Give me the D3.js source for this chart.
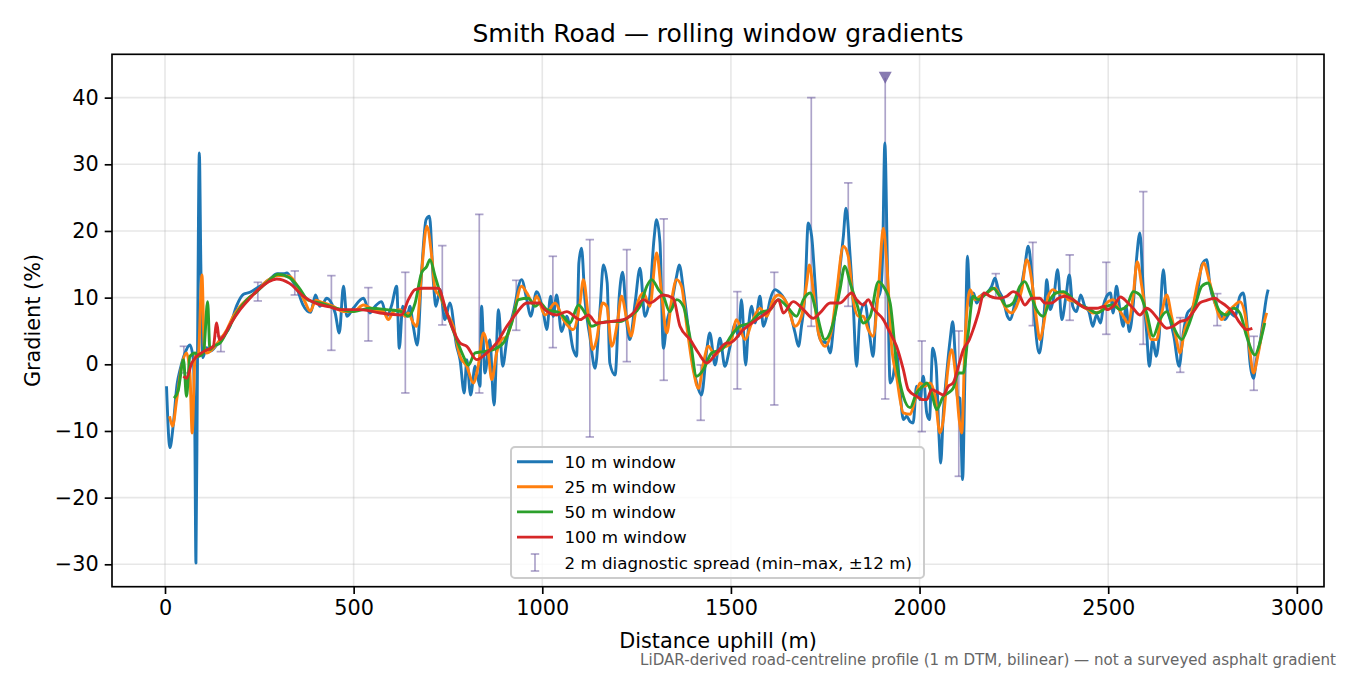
<!DOCTYPE html>
<html>
<head>
<meta charset="utf-8">
<script src="https://cdn.jsdelivr.net/npm/d3@7"></script>
<style>
  body { margin: 0; background: #fff; }
  svg { font-family: "DejaVu Sans", sans-serif; }
</style>
</head>
<body>
<div id="chart"></div>
<script>
// rolling window gradient profiles: [distance m, gradient %]
const w10 = [
  [4,-3.3],[13,-12.5],[22,-9],[32,-3],[40,-0.8],[53,1.7],[66,2.9],[75,0.7],[79,-10],[82,-29.8],
  [86,0],[91,31.7],[95,15],[100,1],[110,2.5],[120,2],[137,2.9],[155,4.2],[172,5.7],[190,8.8],
  [208,10.5],[225,10.8],[243,11.4],[260,12],[280,12.9],[297,13.6],[315,13.6],[323,13.7],[338,12.5],[350,11.3],
  [365,9],[386,7.8],[399,10.4],[410,8.7],[420,9.2],[428,9.9],[451,7.7],[462,4.7],[473,11.7],[482,7.2],
  [499,8.4],[526,9.9],[543,7.7],[557,8.7],[574,9.4],[588,7.2],[601,8.9],[614,11.7],[621,2.4],[630,8.7],
  [642,7.2],[649,8.7],[658,5.7],[669,2.9],[680,13.7],[692,21.7],[701,22.2],[711,12.7],[718,8.7],[729,11.2],
  [742,6.7],[755,9.2],[773,2.7],[782,0.7],[793,-4.3],[800,0.7],[810,-4.6],[822,-0.3],[835,-3.3],[839,8.7],
  [848,-1.3],[861,3.7],[872,-6.1],[884,8.2],[895,-0.3],[906,3.7],[923,7.7],[945,12.7],[959,9.7],[969,7.2],
  [985,10.9],[1003,7.7],[1012,5.2],[1022,10.2],[1029,7.2],[1038,10.4],[1051,4.9],[1065,7.2],[1082,2.2],[1091,1.2],
  [1097,15.2],[1104,17.4],[1113,9.7],[1126,4.2],[1140,-0.6],[1153,8.2],[1162,14.9],[1172,12.2],[1179,0.2],[1193,-1.6],
  [1204,10.2],[1213,13.8],[1224,6.2],[1232,3.7],[1246,9.2],[1259,14.4],[1272,7.2],[1285,10.2],[1296,18.7],[1303,21.7],
  [1312,18.2],[1321,2.4],[1330,6.2],[1343,9.2],[1356,13.2],[1363,14.9],[1374,11.2],[1383,7.2],[1396,1.2],[1409,-2.8],
  [1422,-4.6],[1436,2.2],[1444,4.7],[1458,-0.1],[1471,3.9],[1484,-0.3],[1497,2.5],[1511,6],[1520,4.2],[1528,9.7],
  [1539,-0.1],[1546,5.2],[1555,8.7],[1564,6.2],[1577,10.2],[1586,5.7],[1595,7.2],[1604,9.7],[1617,11.2],[1630,10.7],
  [1643,9.7],[1657,7.7],[1670,4.7],[1679,2.7],[1687,5.7],[1696,10.2],[1705,21.2],[1714,19.2],[1723,12.2],[1732,4.7],
  [1741,3.4],[1754,3.2],[1763,1.7],[1773,6.2],[1785,12.2],[1798,19.2],[1805,23.4],[1816,16.2],[1824,9.2],[1833,-0.3],
  [1842,7.2],[1855,9.2],[1867,4.7],[1877,1.2],[1886,9.2],[1897,11.2],[1902,16.2],[1908,33.2],[1915,14.2],[1922,-2.8],
  [1930,-1.8],[1939,1.7],[1948,-3.8],[1957,-8.3],[1966,-7.8],[1975,-8.6],[1983,-8.8],[1992,-3.3],[2001,-5.3],[2010,-1.8],
  [2019,-7.3],[2026,-8.3],[2035,2.4],[2044,-0.3],[2052,-11.3],[2056,-14.8],[2063,-7.3],[2072,-1.3],[2081,3.7],[2088,6.4],
  [2094,1.7],[2100,-4.8],[2107,-5.1],[2114,-17.3],[2120,-2.3],[2127,16.2],[2134,8.7],[2143,10.7],[2151,9.2],[2165,10.4],
  [2178,10.7],[2191,11.7],[2200,12.9],[2209,11.2],[2222,9.7],[2233,7.2],[2241,6.7],[2253,9.2],[2266,10.7],[2279,14.7],
  [2288,17.7],[2297,13.7],[2306,6.2],[2317,1.7],[2324,3.7],[2333,9.7],[2337,12.7],[2346,8.2],[2356,10.2],[2366,14.2],
  [2377,6.7],[2388,10.2],[2397,13.4],[2406,8.7],[2416,7.9],[2427,10.4],[2438,8.7],[2449,7.9],[2459,5.7],[2469,7.4],
  [2480,6.2],[2487,8.7],[2496,10.2],[2506,10.7],[2513,7.7],[2522,11.7],[2531,8.2],[2540,5.7],[2547,8.7],[2556,4.9],
  [2566,8.7],[2575,15.7],[2584,19.7],[2593,11.2],[2602,4.7],[2609,-0.3],[2618,3.7],[2627,1.2],[2635,4.2],[2646,14.2],
  [2655,8.7],[2664,6.7],[2674,4.2],[2688,-0.3],[2699,4.7],[2710,7.7],[2725,8.7],[2739,11.7],[2748,14.9],[2761,15.7],
  [2770,11.7],[2783,9.2],[2796,7.7],[2809,6.7],[2823,7.7],[2836,7.2],[2849,10.2],[2858,10.7],[2867,6.7],[2876,0.2],
  [2885,-2.1],[2893,0.7],[2902,3.2],[2911,6.7],[2920,10.2],[2924,11.2]
];

const w25 = [
  [12,-7.8],[20,-9.3],[31,-5.3],[44,-0.3],[57,1.7],[66,-1.3],[72,-10.3],[80,1.2],[88,1.2],[98,13.4],
  [104,2.7],[110,1.7],[128,2.4],[146,3.7],[164,5.2],[181,7.2],[199,8.7],[217,9.7],[243,10.9],[270,12.5],
  [300,13.3],[330,13.2],[350,11.8],[370,9.5],[385,8],[400,9.6],[411,9.4],[446,8.7],[473,7.9],[499,7.9],
  [526,8.9],[552,8.2],[579,7.9],[592,6.7],[605,7.9],[623,8.2],[636,7.2],[645,7.7],[658,6.2],[667,5.7],
  [680,13.7],[694,20.7],[707,16.2],[716,11.2],[729,10.2],[747,7.7],[764,5.7],[782,1.2],[800,-0.3],[817,-2.8],
  [830,-0.3],[844,4.7],[857,1.7],[866,-2.3],[879,1.7],[892,3.7],[906,4.2],[923,7.2],[945,11.7],[959,10.7],
  [976,9.2],[985,10.2],[1007,7.4],[1034,9.2],[1056,6.7],[1082,5.2],[1100,9.2],[1109,12.7],[1122,7.2],[1134,2.2],
  [1144,3.7],[1160,9.2],[1171,8.7],[1184,2.7],[1199,6.2],[1210,10.2],[1224,6.7],[1235,4.2],[1250,8.7],[1268,10.7],
  [1285,8.7],[1303,16.7],[1316,10.7],[1330,4.7],[1343,9.7],[1356,12.7],[1369,11.7],[1383,5.7],[1400,-0.8],[1414,-3.6],
  [1427,0.2],[1440,2.7],[1458,1.4],[1475,2.4],[1498,3],[1515,6.7],[1537,3.7],[1555,6.2],[1577,8.4],[1595,7.2],
  [1612,9.7],[1626,10.4],[1648,9.2],[1670,5.7],[1687,7.2],[1701,12.2],[1708,14.9],[1718,11.2],[1732,4.7],[1749,2.7],
  [1767,5.2],[1780,10.7],[1798,17.7],[1811,16.2],[1824,9.7],[1838,7.2],[1851,7.2],[1864,5.2],[1877,4.2],[1891,11.2],
  [1904,20.4],[1913,15.2],[1926,2.7],[1939,-1.8],[1957,-7.3],[1975,-7.5],[1988,-5.3],[2001,-2.8],[2014,-3.3],[2028,-2.8],
  [2041,-4.8],[2054,-10.3],[2063,-8.3],[2074,-1.3],[2085,2.2],[2094,-0.8],[2105,-8.3],[2112,-10.3],[2120,2.7],[2134,11.2],
  [2147,9.7],[2160,10.2],[2178,10.7],[2200,11.4],[2213,10.2],[2231,8.2],[2244,7.7],[2257,8.7],[2271,11.2],[2284,15.7],
  [2297,12.7],[2310,6.7],[2319,3.7],[2328,5.7],[2341,10.2],[2354,11.2],[2368,10.7],[2381,10.7],[2394,9.7],[2412,9.4],
  [2430,8.7],[2447,8.2],[2460,7.7],[2478,7.9],[2496,9.2],[2513,9.7],[2527,8.4],[2540,7.2],[2553,6.2],[2566,10.2],
  [2577,15.4],[2589,11.7],[2602,6.7],[2615,3.7],[2628,3.7],[2642,7.7],[2655,10.4],[2668,7.2],[2681,3.7],[2690,1.7],
  [2703,5.2],[2721,7.7],[2739,12.7],[2754,15.2],[2765,13.2],[2783,9.2],[2801,6.7],[2814,7.7],[2832,8.7],[2849,9.4],
  [2862,7.7],[2876,1.7],[2885,-1.3],[2898,1.7],[2911,5.7],[2920,7.7]
];

const w50 = [
  [24,-5.1],[35,-3.9],[49,0.7],[57,-4.8],[66,1.2],[80,1.7],[88,1.2],[102,1.7],[113,9.4],[119,2.2],
  [128,2.7],[146,3.2],[164,4.9],[190,7.7],[217,9.7],[243,10.9],[270,12.3],[300,13.5],[330,13],[355,11.5],
  [380,9.6],[411,9.2],[455,8.4],[499,7.9],[543,8.4],[588,8.2],[627,7.9],[645,7.2],[663,9.2],[680,13.7],
  [694,14.7],[702,15.7],[716,13.2],[729,10.7],[747,7.7],[773,3.7],[791,1.2],[804,-0.1],[822,1.7],[844,1.9],
  [870,2.2],[897,3.2],[919,6.2],[937,9.7],[963,9.9],[981,8.7],[994,9.2],[1012,8.2],[1047,7.7],[1073,6.2],
  [1096,8.9],[1113,7.7],[1131,5.7],[1153,6.2],[1179,6.4],[1206,6.4],[1232,7.2],[1259,8.7],[1277,11.7],[1290,12.7],
  [1308,11.2],[1321,10.2],[1338,7.9],[1356,9.7],[1374,8.7],[1391,4.2],[1409,-1.8],[1427,-0.8],[1449,1.7],[1475,2.2],
  [1506,4.7],[1524,5.7],[1551,6.2],[1577,7.7],[1604,8.2],[1626,9.7],[1648,8.7],[1674,7.2],[1692,9.7],[1710,10.7],
  [1727,7.7],[1749,3.7],[1771,6.2],[1789,11.2],[1802,14.7],[1816,12.2],[1833,9.2],[1851,6.2],[1869,7.2],[1891,12.4],
  [1904,11.7],[1922,9.2],[1939,0.2],[1957,-4.8],[1975,-6.5],[1992,-4.3],[2008,-3.3],[2019,-2.8],[2032,-4.3],[2045,-6.8],
  [2063,-4.8],[2076,-4.3],[2089,-3.6],[2103,-1.3],[2116,-1.3],[2129,4.7],[2142,10.2],[2156,9.7],[2173,10.4],[2195,11.4],
  [2213,10.2],[2231,8.7],[2248,9.2],[2266,11.7],[2279,12.4],[2293,10.7],[2310,8.2],[2328,7.2],[2346,9.7],[2363,10.7],
  [2381,10.9],[2399,10.2],[2416,9.2],[2434,8.7],[2452,8.2],[2469,7.7],[2487,8.2],[2496,8.7],[2513,8.9],[2531,8.2],
  [2549,8.7],[2566,10.9],[2584,10.4],[2602,7.7],[2619,4.2],[2637,6.7],[2655,7.9],[2672,5.7],[2695,3.7],[2712,5.7],
  [2730,8.7],[2748,11.7],[2765,12.2],[2779,10.2],[2796,7.9],[2814,7.4],[2832,8.4],[2849,7.7],[2867,4.2],[2889,1.4],
  [2902,3.2],[2915,6.2]
];

const w100 = [
  [49,-1.8],[57,-2.1],[71,0.2],[84,1.2],[102,1.9],[128,2.7],[137,6.2],[144,3.7],[155,4.2],[172,5.9],
  [199,8.2],[225,9.9],[247,11.2],[296,12.8],[331,12.1],[367,10.2],[402,9.1],[437,8.6],[464,8.2],[517,8.2],
  [570,7.7],[627,7.4],[645,9.7],[663,11.2],[685,11.4],[724,11.4],[747,7.7],[782,3.2],[800,2.7],[826,0.7],
  [853,1.7],[879,3.2],[906,5.7],[932,7.7],[959,9.2],[994,9.2],[1003,8.4],[1038,7.4],[1065,7.9],[1100,6.7],
  [1122,7.4],[1144,6.2],[1179,6.4],[1215,6.7],[1241,7.7],[1268,9.7],[1285,9.2],[1321,10.4],[1347,9.9],[1365,5.7],
  [1392,3.7],[1414,1.7],[1436,0.2],[1462,1.7],[1489,3.2],[1497,3.2],[1533,5.2],[1568,6.7],[1604,8.2],[1626,9.7],
  [1639,7.7],[1665,9.4],[1692,8.2],[1718,6.9],[1736,7.7],[1763,9.2],[1789,9.2],[1820,10.7],[1833,9.7],[1851,8.9],
  [1864,9.7],[1877,8.4],[1904,6.7],[1922,4.7],[1939,2.7],[1957,-0.8],[1970,-3.8],[1992,-4.8],[2010,-5.3],[2019,-5.3],
  [2032,-3.8],[2045,-4.1],[2063,-4.6],[2076,-3.3],[2089,-2.8],[2103,-0.3],[2116,2.2],[2132,3.7],[2142,5.2],[2156,7.7],
  [2171,10.7],[2187,10.2],[2213,9.9],[2231,10.2],[2248,10.9],[2266,10.2],[2279,8.9],[2297,9.9],[2319,9.9],[2332,9.2],
  [2350,9.2],[2368,9.9],[2385,10.2],[2407,9.7],[2425,8.9],[2443,8.4],[2469,8.4],[2491,8.7],[2496,8.2],[2513,8.7],
  [2533,10.1],[2549,9.4],[2566,8.4],[2584,7.4],[2602,8.4],[2619,7.7],[2637,6.4],[2655,5.4],[2672,5.7],[2690,6.4],
  [2708,6.7],[2726,7.9],[2743,9.2],[2761,9.6],[2783,9.9],[2796,9.4],[2814,8.7],[2832,7.7],[2849,6.2],[2867,5.2],
  [2882,5.4]
];

// 2 m diagnostic spread (min-max within +-12 m), sampled along the road
const spreadAt = [50,148,246,344,441,539,637,735,833,931,1028,1126,1224,1322,1420,1517,1615,1713,1811,1909,2006,2104,2202,2300,2398,2495,2593,2691,2789,2886];
const spreadLo = [-1.3,1.9,9.5,10.4,2.1,3.5,-4.3,5.9,-4.3,5.1,2.5,-10.9,0.4,-2.4,-8.4,-3.7,-6.1,5.7,8.7,-5.2,-10.1,-16.8,9.9,5.8,6.6,4.5,3.0,-1.2,5.8,-3.9];
const spreadHi = [2.7,4.2,12.3,14.0,13.3,11.5,13.8,17.8,22.5,12.6,16.2,18.7,17.2,21.8,-0.1,10.9,13.8,40.0,27.2,43.0,3.5,5.0,13.6,18.3,16.4,15.3,25.9,7.0,10.6,4.2];
// spreads whose top runs off the plotted range (drawn with a marker)
const spreadClipped = [1909];

const xTicks = [0, 500, 1000, 1500, 2000, 2500, 3000];
const yTicks = [-30, -20, -10, 0, 10, 20, 30, 40];

const series = [
  {label: "10 m window", data: w10, color: "#1f77b4"},
  {label: "25 m window", data: w25, color: "#ff7f0e"},
  {label: "50 m window", data: w50, color: "#2ca02c"},
  {label: "100 m window", data: w100, color: "#d62728"}
];

class GradientChart {
    constructor(parentElement) {
        this.parentElement = parentElement;
        this.initVis();
    }

    initVis() {
        let vis = this;
        vis.W = 1350;
        vis.H = 675;
        vis.margin = {top: 54.3, right: 26, bottom: 88.3, left: 112};
        vis.width = vis.W - vis.margin.left - vis.margin.right;
        vis.height = vis.H - vis.margin.top - vis.margin.bottom;

        vis.svg = d3.select("#" + vis.parentElement).append("svg")
            .attr("width", vis.W)
            .attr("height", vis.H);

        vis.g = vis.svg.append("g")
            .attr("transform", `translate(${vis.margin.left}, ${vis.margin.top})`);

        vis.x = d3.scaleLinear().domain([-140.5, 3072]).range([0, vis.width]);
        vis.y = d3.scaleLinear().domain([-33.36, 46.5]).range([vis.height, 0]);

        vis.svg.append("defs").append("clipPath").attr("id", "plotClip")
            .append("rect").attr("width", vis.width).attr("height", vis.height);

        // grid
        vis.g.append("g").attr("class", "grid")
            .selectAll("line.gx").data(xTicks).enter().append("line")
            .attr("x1", d => vis.x(d)).attr("x2", d => vis.x(d))
            .attr("y1", 0).attr("y2", vis.height)
            .attr("stroke", "#b0b0b0").attr("stroke-opacity", 0.3).attr("stroke-width", 1.6);
        vis.g.select(".grid")
            .selectAll("line.gy").data(yTicks).enter().append("line")
            .attr("x1", 0).attr("x2", vis.width)
            .attr("y1", d => vis.y(d)).attr("y2", d => vis.y(d))
            .attr("stroke", "#b0b0b0").attr("stroke-opacity", 0.3).attr("stroke-width", 1.6);

        vis.plot = vis.g.append("g").attr("clip-path", "url(#plotClip)");

        // spread bars
        let spread = spreadAt.map((m, i) => ({m: m, lo: spreadLo[i], hi: spreadHi[i], clipped: spreadClipped.includes(m)}));
        let eb = vis.plot.append("g").attr("class", "spread")
            .attr("stroke", "#6a5a9e").attr("stroke-opacity", 0.55).attr("stroke-width", 1.7);
        eb.selectAll("line.bar").data(spread).enter().append("line")
            .attr("x1", d => vis.x(d.m)).attr("x2", d => vis.x(d.m))
            .attr("y1", d => vis.y(d.lo)).attr("y2", d => vis.y(d.hi));
        eb.selectAll("line.capLo").data(spread).enter().append("line")
            .attr("x1", d => vis.x(d.m) - 4.2).attr("x2", d => vis.x(d.m) + 4.2)
            .attr("y1", d => vis.y(d.lo)).attr("y2", d => vis.y(d.lo));
        eb.selectAll("line.capHi").data(spread.filter(d => !d.clipped)).enter().append("line")
            .attr("x1", d => vis.x(d.m) - 4.2).attr("x2", d => vis.x(d.m) + 4.2)
            .attr("y1", d => vis.y(d.hi)).attr("y2", d => vis.y(d.hi));

        // lines
        vis.line = d3.line()
            .x(d => vis.x(d[0]))
            .y(d => vis.y(d[1]))
            .curve(d3.curveMonotoneX);

        vis.plot.selectAll(".series").data(series).enter().append("path")
            .attr("class", "series")
            .attr("d", d => vis.line(d.data))
            .attr("fill", "none")
            .attr("stroke", d => d.color)
            .attr("stroke-width", 2.9)
            .attr("stroke-linejoin", "round");

        // marker for clipped spread top
        vis.g.selectAll(".clipMark").data(spread.filter(d => d.clipped)).enter().append("path")
            .attr("class", "clipMark")
            .attr("transform", d => `translate(${vis.x(d.m)}, ${vis.y(d.hi)})`)
            .attr("d", "M-6.5,-6 L6.5,-6 L0,6 Z")
            .attr("fill", "#6a5a9e").attr("fill-opacity", 0.8);

        // axes
        let xAxis = d3.axisBottom(vis.x).tickValues(xTicks).tickFormat(d3.format("d")).tickSize(7.3).tickPadding(6);
        let yAxis = d3.axisLeft(vis.y).tickValues(yTicks).tickFormat(d3.format("d")).tickSize(7.3).tickPadding(6);

        vis.g.append("g").attr("class", "axis")
            .attr("transform", `translate(0, ${vis.height})`).call(xAxis);
        vis.g.append("g").attr("class", "axis").call(yAxis);

        vis.g.selectAll(".axis .domain").remove();
        vis.g.selectAll(".axis line").attr("stroke", "#000").attr("stroke-width", 1.67);
        vis.g.selectAll(".axis text")
            .style("font-size", "20.8px")
            .attr("fill", "#000")
            .style("font-family", "DejaVu Sans");

        vis.g.append("rect")
            .attr("width", vis.width).attr("height", vis.height)
            .attr("fill", "none").attr("stroke", "#000").attr("stroke-width", 1.67);

        // titles
        vis.svg.append("text")
            .attr("x", vis.margin.left + vis.width / 2).attr("y", 41.7)
            .attr("text-anchor", "middle")
            .style("font-size", "25px")
            .text("Smith Road \u2014 rolling window gradients");

        vis.svg.append("text")
            .attr("x", vis.margin.left + vis.width / 2).attr("y", 648)
            .attr("text-anchor", "middle")
            .style("font-size", "20.8px")
            .text("Distance uphill (m)");

        vis.svg.append("text")
            .attr("transform", `translate(40, ${vis.margin.top + vis.height / 2}) rotate(-90)`)
            .attr("text-anchor", "middle")
            .style("font-size", "20.8px")
            .text("Gradient (%)");

        vis.svg.append("text")
            .attr("x", 1336).attr("y", 665)
            .attr("text-anchor", "end")
            .attr("fill", "#666")
            .style("font-size", "15.1px")
            .text("LiDAR-derived road-centreline profile (1 m DTM, bilinear) \u2014 not a surveyed asphalt gradient");

        vis.drawLegend();
    }

    drawLegend() {
        let vis = this;
        let lg = vis.svg.append("g").attr("class", "legend");
        lg.append("rect")
            .attr("x", 511).attr("y", 447).attr("width", 413).attr("height", 131)
            .attr("rx", 4).attr("ry", 4)
            .attr("fill", "#fff").attr("fill-opacity", 0.8)
            .attr("stroke", "#cccccc").attr("stroke-width", 2);

        let rowY = [461.7, 486.8, 511.9, 537.1, 562.5];
        series.forEach((s, i) => {
            lg.append("line")
                .attr("x1", 517).attr("x2", 553)
                .attr("y1", rowY[i]).attr("y2", rowY[i])
                .attr("stroke", s.color).attr("stroke-width", 2.9);
            lg.append("text")
                .attr("x", 564.5).attr("y", rowY[i]).attr("dy", "0.36em")
                .style("font-size", "16.7px")
                .text(s.label);
        });

        let ey = rowY[4];
        let ebg = lg.append("g").attr("stroke", "#6a5a9e").attr("stroke-opacity", 0.55).attr("stroke-width", 1.7);
        ebg.append("line").attr("x1", 535).attr("x2", 535).attr("y1", ey - 8.5).attr("y2", ey + 8.5);
        ebg.append("line").attr("x1", 530.8).attr("x2", 539.2).attr("y1", ey - 8.5).attr("y2", ey - 8.5);
        ebg.append("line").attr("x1", 530.8).attr("x2", 539.2).attr("y1", ey + 8.5).attr("y2", ey + 8.5);
        lg.append("text")
            .attr("x", 564.5).attr("y", ey).attr("dy", "0.36em")
            .style("font-size", "16.7px")
            .text("2 m diagnostic spread (min\u2013max, \u00b112 m)");
    }
}

new GradientChart("chart");
</script>
</body>
</html>
